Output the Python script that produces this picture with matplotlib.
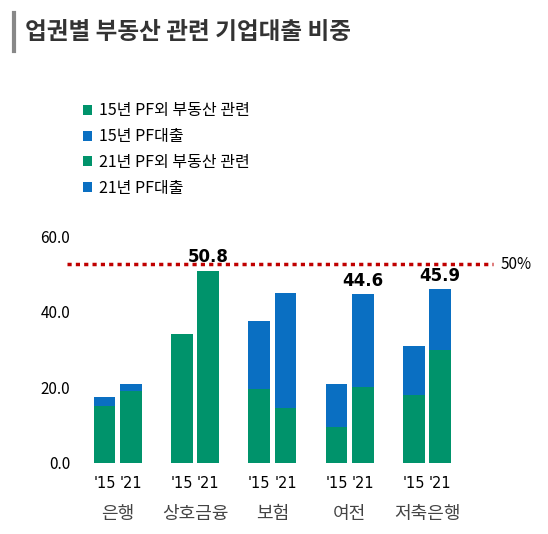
import matplotlib.pyplot as plt
import numpy as np

plt.rcParams['font.family'] = ['Noto Sans CJK KR', 'DejaVu Sans']

categories = ['은행', '상호금융', '보험', '여전', '저축은행']
years = ["'15", "'21"]
non_pf_15 = [15.0, 34.0, 19.5, 9.5, 18.0]
pf_15 = [2.5, 0.0, 18.0, 11.5, 13.0]
non_pf_21 = [19.0, 50.8, 14.5, 20.0, 30.0]
pf_21 = [2.0, 0.0, 30.5, 24.6, 15.9]
labels_21 = {1: '50.8', 3: '44.6', 4: '45.9'}
ref_line = 52.5

green = '#00936B'
blue = '#0A6FC2'

fig = plt.figure(figsize=(5.48, 5.34), dpi=100)
ax = fig.add_axes([0.137, 0.133, 0.72, 0.425])

x = np.arange(len(categories)) * 1.0
w = 0.28
off = 0.17
ax.bar(x - off, non_pf_15, w, color=green, label='15년 PF외 부동산 관련')
ax.bar(x - off, pf_15, w, bottom=non_pf_15, color=blue, label='15년 PF대출')
ax.bar(x + off, non_pf_21, w, color=green, label='21년 PF외 부동산 관련')
ax.bar(x + off, pf_21, w, bottom=non_pf_21, color=blue, label='21년 PF대출')

for i, t in labels_21.items():
    top = non_pf_21[i] + pf_21[i]
    ax.text(x[i] + off, top + 1.2, t, ha='center', va='bottom', fontsize=12,
            fontweight='bold', family='DejaVu Sans')

ax.axhline(ref_line, xmin=-0.02, xmax=1.06, color='#C00000', ls=(0, (1.2, 1.2)),
           lw=2.5, clip_on=False)
ax.text(x[-1] + 0.95, ref_line, '50%', va='center', ha='left', fontsize=11)

ax.set_ylim(0, 60)
ax.set_xlim(-0.55, x[-1] + 0.55)
ax.set_yticks([0, 20, 40, 60])
ax.set_yticklabels(['0.0', '20.0', '40.0', '60.0'], fontsize=11)
ax.tick_params(length=0, axis='both')
ax.set_xticks([])
for s in ax.spines.values():
    s.set_visible(False)

for i in range(len(categories)):
    for j, yr in enumerate(years):
        ax.text(x[i] + (off if j else -off), -3.5, yr, ha='center', va='top',
                fontsize=10.5, family='DejaVu Sans')
    ax.text(x[i], -11, categories[i], ha='center', va='top', fontsize=13, color='#444444')

leg = fig.legend(loc='upper left', bbox_to_anchor=(0.125, 0.835), frameon=False,
                 fontsize=11.5, handlelength=0.6, handleheight=0.6, labelspacing=0.55,
                 handletextpad=0.4)

fig.text(0.045, 0.94, '업권별 부동산 관련 기업대출 비중', fontsize=17, fontweight='bold',
         color='#333333', va='center')
fig.add_artist(plt.Line2D([0.025, 0.025], [0.905, 0.975], color='#888888', lw=3))

fig.savefig('out.png', dpi=100)
